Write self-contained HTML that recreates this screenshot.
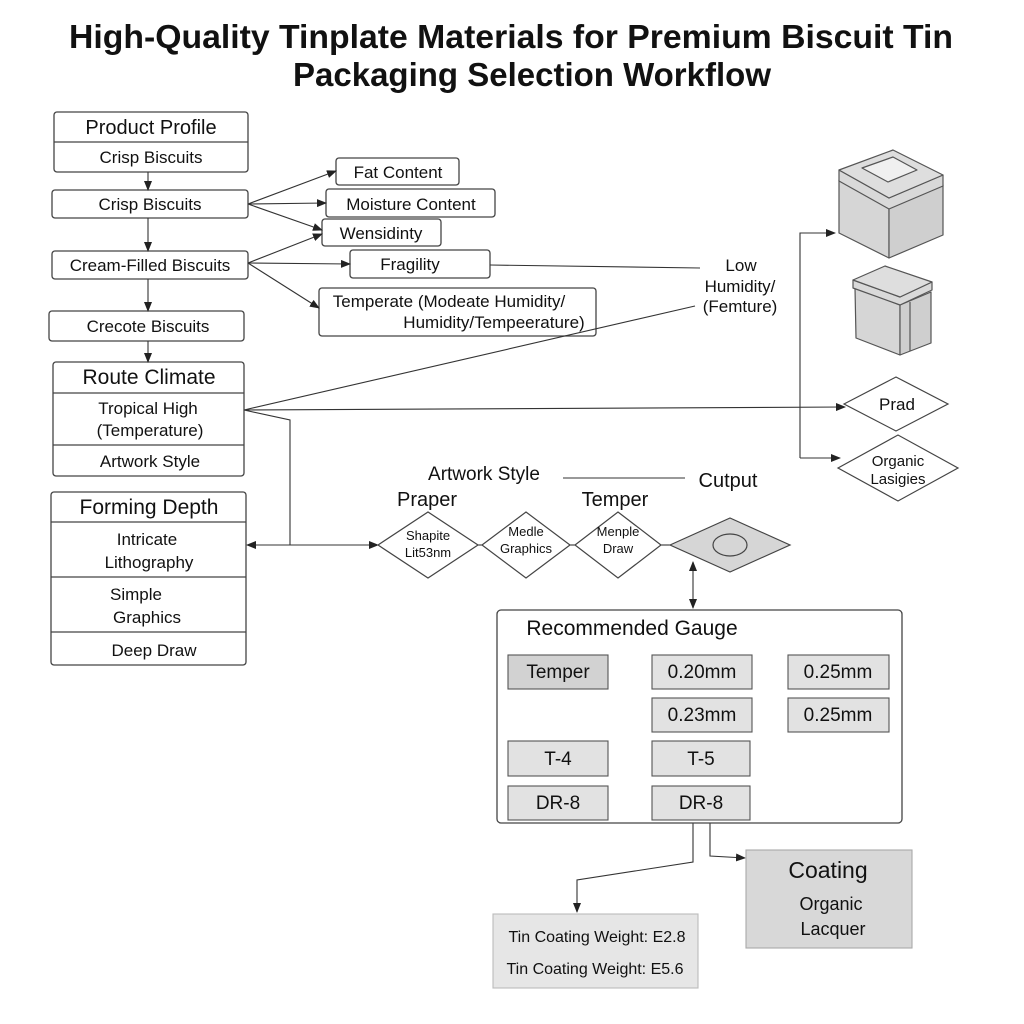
<!DOCTYPE html>
<html><head><meta charset="utf-8"><style>
body{margin:0;background:#fff;}
svg{display:block;font-family:"Liberation Sans","DejaVu Sans",sans-serif;}
</style></head><body>
<svg width="1024" height="1024" viewBox="0 0 1024 1024" xmlns="http://www.w3.org/2000/svg">
<defs>
<marker id="a" markerWidth="10" markerHeight="8" refX="9" refY="4" orient="auto" markerUnits="userSpaceOnUse"><path d="M0,0 L10,4 L0,8 Z" fill="#222"/></marker>
<marker id="as" markerWidth="10" markerHeight="8" refX="1" refY="4" orient="auto" markerUnits="userSpaceOnUse"><path d="M10,0 L0,4 L10,8 Z" fill="#222"/></marker>
</defs>
<rect width="1024" height="1024" fill="#fff"/>
<g font-weight="bold" font-size="33" text-anchor="middle" fill="#111">
<text x="511" y="48" textLength="884" lengthAdjust="spacingAndGlyphs">High-Quality Tinplate Materials for Premium Biscuit Tin</text>
<text x="532" y="86" textLength="478" lengthAdjust="spacingAndGlyphs">Packaging Selection Workflow</text>
</g>
<g fill="none" stroke="#444" stroke-width="1.3">
<rect x="54" y="112" width="194" height="60" rx="3"/><line x1="54" y1="142" x2="248" y2="142"/>
<rect x="52" y="190" width="196" height="28" rx="3"/>
<rect x="52" y="251" width="196" height="28" rx="3"/>
<rect x="49" y="311" width="195" height="30" rx="3"/>
<rect x="53" y="362" width="191" height="114" rx="3"/><line x1="53" y1="393" x2="244" y2="393"/><line x1="53" y1="445" x2="244" y2="445"/>
<rect x="51" y="492" width="195" height="173" rx="3"/><line x1="51" y1="522" x2="246" y2="522"/><line x1="51" y1="577" x2="246" y2="577"/><line x1="51" y1="632" x2="246" y2="632"/>
<rect x="336" y="158" width="123" height="27" rx="3"/>
<rect x="326" y="189" width="169" height="28" rx="3"/>
<rect x="322" y="219" width="119" height="27" rx="3"/>
<rect x="350" y="250" width="140" height="28" rx="3"/>
<rect x="319" y="288" width="277" height="48" rx="3"/>
</g>
<g stroke="#333" stroke-width="1.1" fill="none" marker-end="url(#a)">
<line x1="148" y1="172" x2="148" y2="190"/>
<line x1="148" y1="218" x2="148" y2="251"/>
<line x1="148" y1="279" x2="148" y2="311"/>
<line x1="148" y1="341" x2="148" y2="362"/>
<line x1="248" y1="204" x2="336" y2="171"/>
<line x1="248" y1="204" x2="326" y2="203"/>
<line x1="248" y1="204" x2="322" y2="230"/>
<line x1="248" y1="263" x2="322" y2="234"/>
<line x1="248" y1="263" x2="350" y2="264"/>
<line x1="248" y1="263" x2="319" y2="308"/>
<line x1="244" y1="410" x2="845" y2="407"/>
<polyline points="800,458 800,233 835,233"/>
<line x1="800" y1="458" x2="840" y2="458"/>
<polyline points="693,823 693,862 577,880 577,912"/>
<polyline points="710,823 710,856 745,858"/>
</g>
<g stroke="#333" stroke-width="1.1" fill="none">
<line x1="490" y1="265" x2="700" y2="268"/>
<line x1="244" y1="410" x2="695" y2="306"/>
<polyline points="244,410 290,420 290,545"/>
<line x1="290" y1="545" x2="378" y2="545" marker-end="url(#a)"/>
<line x1="290" y1="545" x2="247" y2="545" marker-end="url(#a)"/>
<line x1="563" y1="478" x2="685" y2="478"/>
<line x1="478" y1="545" x2="482" y2="545"/><line x1="570" y1="545" x2="575" y2="545"/><line x1="661" y1="545" x2="670" y2="545"/>
<line x1="693" y1="562" x2="693" y2="608" marker-start="url(#as)" marker-end="url(#a)"/>
</g>
<g stroke="#444" stroke-width="1.2" fill="#fff">
<polygon points="378,545 428,512 478,545 428,578"/>
<polygon points="482,545 526,512 570,545 526,578"/>
<polygon points="575,545 618,512 661,545 618,578"/>
<polygon points="670,545 730,518 790,545 730,572" fill="#d6d6d6"/>
<ellipse cx="730" cy="545" rx="17" ry="11" fill="#d6d6d6"/>
<polygon points="838,468 898,435 958,468 898,501"/>
<polygon points="844,404 896,377 948,404 896,431"/>
</g>
<!-- tins -->
<g stroke="#555" stroke-width="1.2" stroke-linejoin="round">
<polygon points="839,180 889,208 889,258 839,233" fill="#d6d6d6"/>
<polygon points="889,208 943,185 943,235 889,258" fill="#cfcfcf"/>
<polygon points="839,170 889,198 943,175 943,186 889,209 839,181" fill="#d9d9d9"/>
<polygon points="839,170 893,150 943,175 889,198" fill="#dedede"/>
<polygon points="862,168 893,157 917,170 888,182" fill="#f0f0f0"/>
<polygon points="855,288 900,305 900,355 856,338" fill="#d6d6d6"/>
<polygon points="900,305 931,292 931,343 900,355" fill="#cfcfcf"/>
<polygon points="853,280 900,297 932,282 932,290 900,305 853,288" fill="#d9d9d9"/>
<polygon points="853,280 885,266 932,282 900,297" fill="#dedede"/>
<line x1="910" y1="302" x2="910" y2="351"/>
</g>
<rect x="497" y="610" width="405" height="213" rx="4" fill="#fff" stroke="#444" stroke-width="1.3"/>
<g fill="#e2e2e2" stroke="#555" stroke-width="1.1">
<rect x="508" y="655" width="100" height="34" fill="#d2d2d2"/>
<rect x="652" y="655" width="100" height="34"/>
<rect x="788" y="655" width="101" height="34"/>
<rect x="652" y="698" width="100" height="34"/>
<rect x="788" y="698" width="101" height="34"/>
<rect x="508" y="741" width="100" height="35"/>
<rect x="652" y="741" width="98" height="35"/>
<rect x="508" y="786" width="100" height="34"/>
<rect x="652" y="786" width="98" height="34"/>
<rect x="493" y="914" width="205" height="74" fill="#e6e6e6" stroke="#bbb"/>
<rect x="746" y="850" width="166" height="98" fill="#d8d8d8" stroke="#aaa"/>
</g>
<g fill="#111" font-size="17" text-anchor="middle">
<text x="151" y="134" font-size="20">Product Profile</text>
<text x="151" y="163">Crisp Biscuits</text>
<text x="150" y="210">Crisp  Biscuits</text>
<text x="150" y="271">Cream-Filled Biscuits</text>
<text x="148" y="332">Crecote Biscuits</text>
<text x="149" y="384" font-size="21">Route Climate</text>
<text x="148" y="414">Tropical High</text>
<text x="150" y="436">(Temperature)</text>
<text x="150" y="467">Artwork Style</text>
<text x="149" y="514" font-size="21">Forming Depth</text>
<text x="147" y="545">Intricate</text>
<text x="149" y="568">Lithography</text>
<text x="136" y="600">Simple</text>
<text x="147" y="623">Graphics</text>
<text x="154" y="656">Deep Draw</text>
<text x="398" y="178">Fat Content</text>
<text x="411" y="210">Moisture Content</text>
<text x="381" y="239">Wensidinty</text>
<text x="410" y="270">Fragility</text>
<text x="449" y="307">Temperate (Modeate Humidity/</text>
<text x="494" y="328">Humidity/Tempeerature)</text>
<text x="741" y="271">Low</text>
<text x="740" y="292">Humidity/</text>
<text x="740" y="312">(Femture)</text>
<text x="897" y="410">Prad</text>
<text x="898" y="466" font-size="15">Organic</text>
<text x="898" y="484" font-size="15">Lasigies</text>
<text x="484" y="480" font-size="19">Artwork Style</text>
<text x="728" y="487" font-size="20">Cutput</text>
<text x="427" y="506" font-size="20">Praper</text>
<text x="615" y="506" font-size="20">Temper</text>
<text x="428" y="540" font-size="13">Shapite</text>
<text x="428" y="557" font-size="13">Lit53nm</text>
<text x="526" y="536" font-size="13">Medle</text>
<text x="526" y="553" font-size="13">Graphics</text>
<text x="618" y="536" font-size="13">Menple</text>
<text x="618" y="553" font-size="13">Draw</text>
<text x="632" y="635" font-size="21">Recommended Gauge</text>
<text x="558" y="678" font-size="19">Temper</text>
<text x="702" y="678" font-size="19">0.20mm</text>
<text x="838" y="678" font-size="19">0.25mm</text>
<text x="702" y="721" font-size="19">0.23mm</text>
<text x="838" y="721" font-size="19">0.25mm</text>
<text x="558" y="765" font-size="19">T-4</text>
<text x="701" y="765" font-size="19">T-5</text>
<text x="558" y="809" font-size="19">DR-8</text>
<text x="701" y="809" font-size="19">DR-8</text>
<text x="597" y="942" font-size="16">Tin Coating Weight: E2.8</text>
<text x="595" y="974" font-size="16">Tin Coating Weight: E5.6</text>
<text x="828" y="878" font-size="23">Coating</text>
<text x="831" y="910" font-size="18">Organic</text>
<text x="833" y="935" font-size="18">Lacquer</text>
</g>
</svg>
</body></html>
